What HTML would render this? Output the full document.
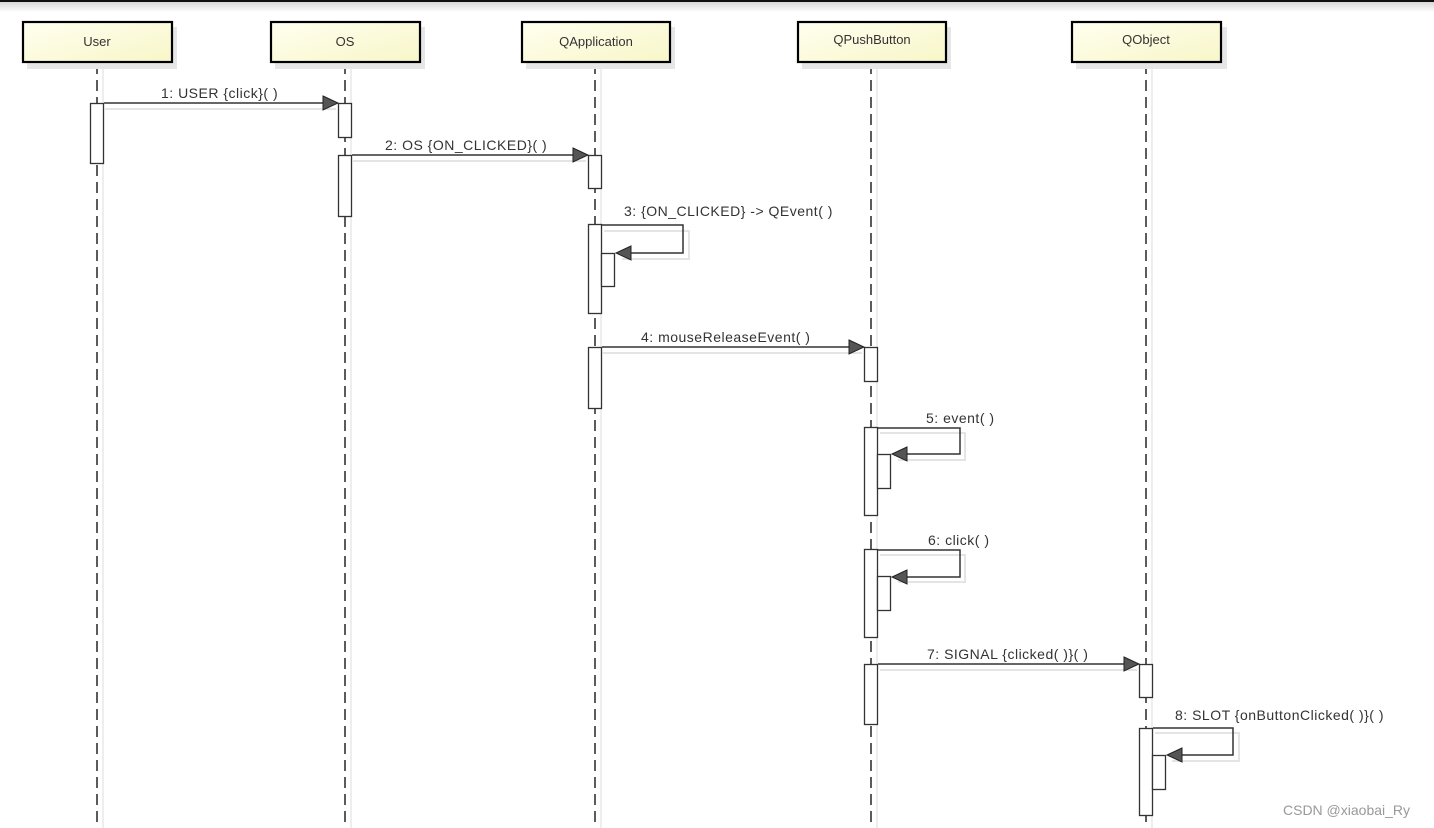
<!DOCTYPE html>
<html><head><meta charset="utf-8"><style>
html,body{margin:0;padding:0;background:#fff;width:1434px;height:828px;overflow:hidden}
svg text{font-family:"Liberation Sans",sans-serif;font-size:13px;fill:#333}
svg text.m{font-size:14px;letter-spacing:0.5px}
</style></head><body>
<svg width="1434" height="828" viewBox="0 0 1434 828" xmlns="http://www.w3.org/2000/svg">
<defs>
<linearGradient id="hd" x1="0" y1="0" x2="1" y2="1"><stop offset="0" stop-color="#fffff0"/><stop offset="1" stop-color="#f8f6c8"/></linearGradient>
<linearGradient id="top" x1="0" y1="0" x2="0" y2="1"><stop offset="0" stop-color="#d8d8d8"/><stop offset="1" stop-color="#ffffff"/></linearGradient>
</defs>
<rect x="0" y="0" width="1434" height="2" fill="#111"/>
<rect x="0" y="2" width="1434" height="10" fill="url(#top)"/>

<g stroke="#e8e8e8" stroke-width="1.5">
<line x1="103" y1="64" x2="103" y2="828"/><line x1="351" y1="64" x2="351" y2="828"/>
<line x1="601" y1="64" x2="601" y2="828"/><line x1="877" y1="64" x2="877" y2="828"/>
<line x1="1152" y1="64" x2="1152" y2="828"/>
</g>
<g stroke="#333" stroke-width="1.6" stroke-dasharray="11,6">
<line x1="97" y1="63" x2="97" y2="828"/><line x1="345" y1="63" x2="345" y2="828"/>
<line x1="595" y1="63" x2="595" y2="828"/><line x1="871" y1="63" x2="871" y2="828"/>
<line x1="1146" y1="63" x2="1146" y2="828"/>
</g>

<g>
<rect x="27" y="27" width="150" height="42" fill="#e6e6e6"/>
<rect x="275" y="27" width="150" height="42" fill="#e6e6e6"/>
<rect x="526" y="27" width="149" height="42" fill="#e6e6e6"/>
<rect x="802" y="27" width="149" height="42" fill="#e6e6e6"/>
<rect x="1076" y="27" width="151" height="42" fill="#e6e6e6"/>
<g fill="url(#hd)" stroke="#000" stroke-width="2.2">
<rect x="23" y="22" width="149" height="40"/>
<rect x="271" y="22" width="149" height="40"/>
<rect x="522" y="22" width="148" height="40"/>
<rect x="798" y="22" width="148" height="40"/>
<rect x="1072" y="22" width="149" height="40"/>
</g>
<text x="97" y="46" text-anchor="middle">User</text>
<text x="345" y="46" text-anchor="middle">OS</text>
<text x="596" y="46" text-anchor="middle">QApplication</text>
<text x="872" y="44" text-anchor="middle">QPushButton</text>
<text x="1146" y="44" text-anchor="middle">QObject</text>
</g>

<g stroke="#e4e4e4" stroke-width="2" fill="none">
<line x1="105" y1="109" x2="336" y2="109"/>
<line x1="353" y1="161" x2="586" y2="161"/>
<polyline points="604,231 689,231 689,259 622,259"/>
<line x1="603" y1="353" x2="862" y2="353"/>
<polyline points="880,433 965,433 965,460 898,460"/>
<polyline points="880,555 965,555 965,582 898,582"/>
<line x1="880" y1="670" x2="1137" y2="670"/>
<polyline points="1155,733 1239,733 1239,761 1172,761"/>
</g>

<g fill="#fff" stroke="#333" stroke-width="1.3">
<rect x="90.5" y="103.5" width="13" height="60"/>
<rect x="338.5" y="103.5" width="13" height="34"/>
<rect x="338.5" y="155.5" width="13" height="61"/>
<rect x="588.5" y="155.5" width="13" height="33"/>
<rect x="588.5" y="224.5" width="13" height="89"/>
<rect x="601.5" y="253.5" width="13" height="33"/>
<rect x="588.5" y="347.5" width="13" height="61"/>
<rect x="864.5" y="347.5" width="13" height="34"/>
<rect x="864.5" y="427.5" width="13" height="88"/>
<rect x="877.5" y="454.5" width="13" height="34"/>
<rect x="864.5" y="549.5" width="13" height="88"/>
<rect x="877.5" y="576.5" width="13" height="34"/>
<rect x="864.5" y="664.5" width="13" height="60"/>
<rect x="1139.5" y="664.5" width="13" height="33"/>
<rect x="1139.5" y="728.5" width="13" height="87"/>
<rect x="1152.5" y="755.5" width="13" height="34"/>
</g>

<g stroke="#333" stroke-width="1.5" fill="none">
<line x1="104" y1="103" x2="326" y2="103"/>
<line x1="352" y1="155" x2="576" y2="155"/>
<polyline points="602,225 683,225 683,253 628,253"/>
<line x1="602" y1="347" x2="852" y2="347"/>
<polyline points="878,428 960,428 960,454 904,454"/>
<polyline points="878,550 960,550 960,577 904,577"/>
<line x1="878" y1="664" x2="1127" y2="664"/>
<polyline points="1153,728 1233,728 1233,755 1179,755"/>
</g>
<g fill="#555" stroke="#222" stroke-width="1">
<polygon points="323,96 338,103 323,110"/>
<polygon points="573,148 588,155 573,162"/>
<polygon points="631,246 616,253 631,260"/>
<polygon points="849,340 864,347 849,354"/>
<polygon points="907,447 892,454 907,461"/>
<polygon points="907,570 892,577 907,584"/>
<polygon points="1124,657 1139,664 1124,671"/>
<polygon points="1182,748 1167,755 1182,762"/>
</g>

<text class="m" x="161" y="98">1: USER {click}( )</text>
<text class="m" x="385" y="150">2: OS {ON_CLICKED}( )</text>
<text class="m" x="624" y="216">3: {ON_CLICKED} -&gt; QEvent( )</text>
<text class="m" x="641" y="342">4: mouseReleaseEvent( )</text>
<text class="m" x="926" y="423">5: event( )</text>
<text class="m" x="928" y="545">6: click( )</text>
<text class="m" x="927" y="659">7: SIGNAL {clicked( )}( )</text>
<text class="m" x="1175" y="720">8: SLOT {onButtonClicked( )}( )</text>
<text x="1283" y="815" style="font-size:14px;fill:#999">CSDN @xiaobai_Ry</text>
</svg>
</body></html>
